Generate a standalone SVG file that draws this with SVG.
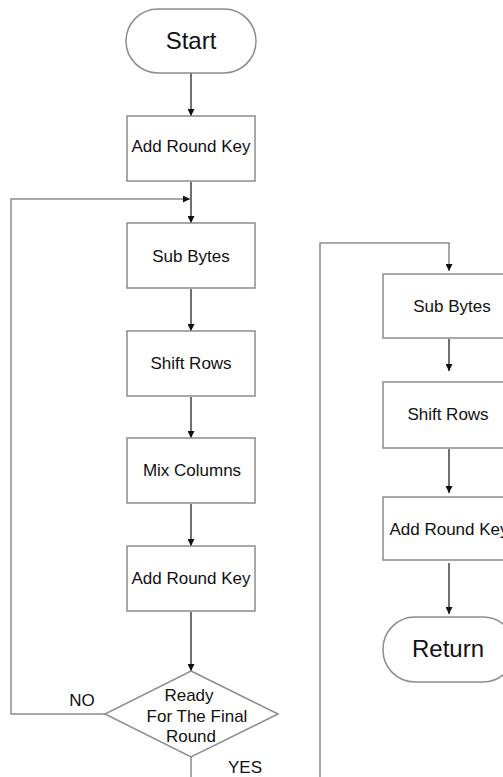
<svg xmlns="http://www.w3.org/2000/svg" width="503" height="777" viewBox="0 0 503 777">
<defs>
<marker id="ah" viewBox="0 0 10 10" refX="10" refY="5" markerWidth="7" markerHeight="7" markerUnits="userSpaceOnUse" orient="auto">
<path d="M0,0 L10,5 L0,10 z" fill="#111"/>
</marker>
<style>
.box{fill:#fff;stroke:#8c8c8c;stroke-width:1.5}
.t{font-family:"Liberation Sans",Arial,sans-serif;font-size:17px;fill:#111;text-anchor:middle}
.big{font-size:24px}
.arr{stroke:#222;stroke-width:1.3;fill:none;marker-end:url(#ah)}
.ln{stroke:#8c8c8c;stroke-width:1.5;fill:none}
.lna{stroke:#8c8c8c;stroke-width:1.5;fill:none;marker-end:url(#ah)}
</style>
</defs>
<rect width="503" height="777" fill="#fff"/>
<g id="connectors">
<path class="arr" d="M191,73 V116"/>
<path class="arr" d="M191,182 V223"/>
<path class="lna" d="M105,714 H11 V199 H190"/>
<path class="arr" d="M191,289 V331"/>
<path class="arr" d="M191,397 V438"/>
<path class="arr" d="M191,504 V546"/>
<path class="arr" d="M191,612 V671"/>
<path class="ln" d="M191,757 V777"/>
<path class="lna" d="M320,777 V243 H449 V271"/>
<path class="arr" d="M449,339 V371"/>
<path class="arr" d="M449,449 V493"/>
<path class="arr" d="M449,563 V614"/>
<text class="t" x="82" y="706">NO</text>
<text class="t" x="245" y="773">YES</text>
</g>
<g id="start"><rect class="box" x="126" y="9" width="130" height="64" rx="32"/><text class="t big" x="191" y="49">Start</text></g>
<g id="addkey1"><rect class="box" x="127" y="116" width="128" height="65"/><text class="t" x="191" y="152">Add Round Key</text></g>
<g id="subbytes1"><rect class="box" x="127" y="223" width="128" height="65"/><text class="t" x="191" y="262">Sub Bytes</text></g>
<g id="shiftrows1"><rect class="box" x="127" y="331" width="128" height="65"/><text class="t" x="191" y="369">Shift Rows</text></g>
<g id="mixcolumns"><rect class="box" x="127" y="438" width="128" height="65"/><text class="t" x="192" y="476">Mix Columns</text></g>
<g id="addkey2"><rect class="box" x="127" y="546" width="128" height="65"/><text class="t" x="191" y="584">Add Round Key</text></g>
<g id="decision"><path class="box" d="M191,671 L278,714 L191,757 L105,714 Z"/>
<text class="t" x="189" y="701">Ready</text><text class="t" x="197" y="722">For The Final</text><text class="t" x="191" y="742">Round</text></g>
<g id="subbytes2"><rect class="box" x="383" y="274" width="132" height="64"/><text class="t" x="452" y="312">Sub Bytes</text></g>
<g id="shiftrows2"><rect class="box" x="383" y="382" width="132" height="66"/><text class="t" x="448" y="420">Shift Rows</text></g>
<g id="addkey3"><rect class="box" x="383" y="497" width="132" height="63"/><text class="t" x="449" y="535">Add Round Key</text></g>
<g id="return"><rect class="box" x="383" y="617" width="132" height="65" rx="32"/><text class="t big" x="448" y="657">Return</text></g>
</svg>
